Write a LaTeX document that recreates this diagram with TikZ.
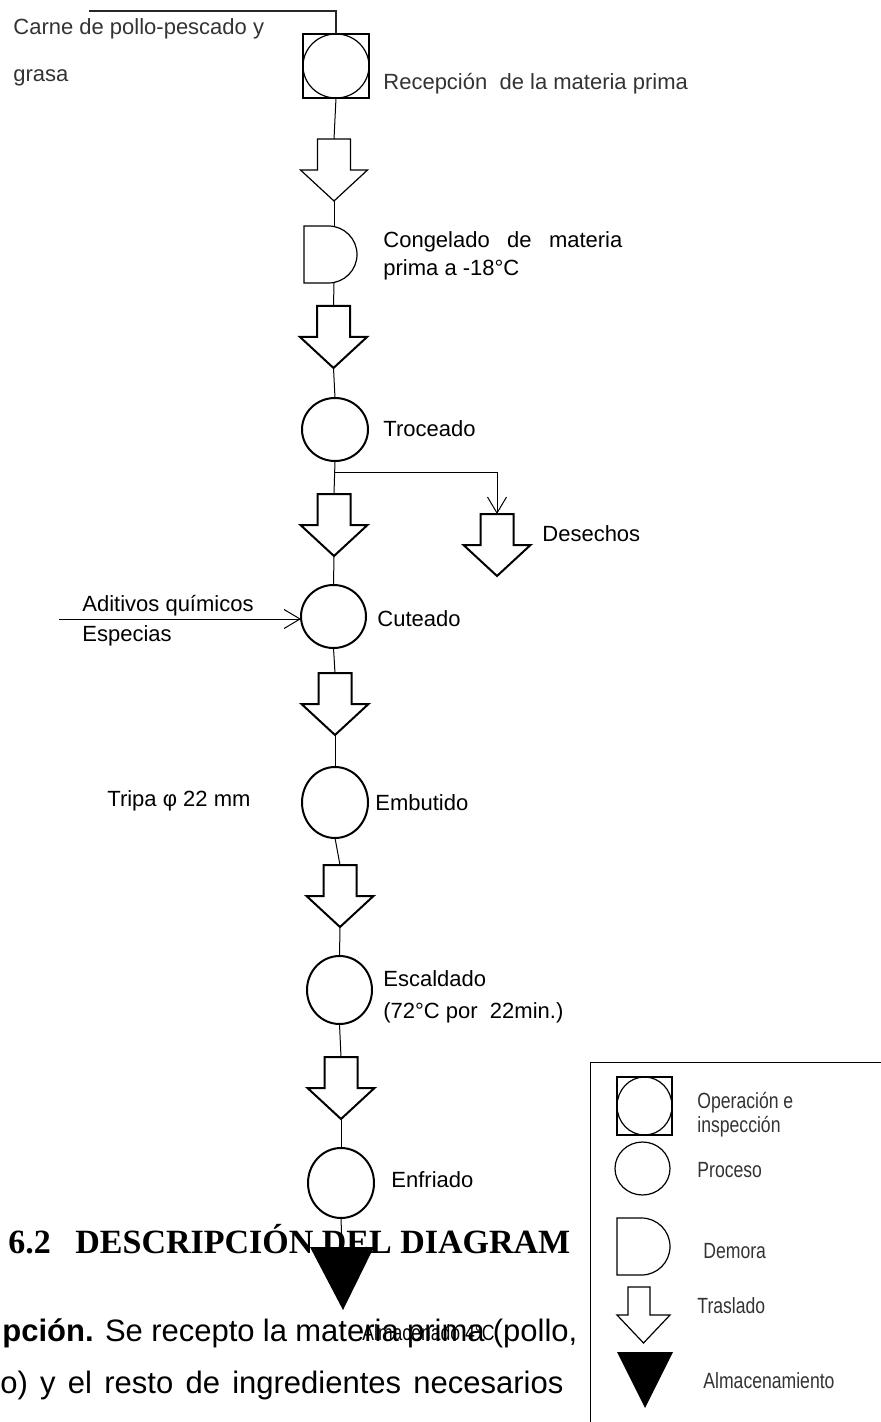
\documentclass[tikz,border=0pt]{standalone}
\usepackage{fontspec}
\setmainfont{Liberation Sans}
\newfontfamily\angosta[FakeStretch=0.8]{Liberation Sans}
\newfontfamily\titulo{Liberation Serif}
\usetikzlibrary{shapes.geometric,arrows.meta}
\tikzset{
  proceso/.style={ellipse, draw, line width=1pt, inner sep=0pt, outer sep=0pt},
  fino/.style={line width=0.6pt},
  linea/.style={line width=0.5pt},
  flecha/.style={linea, -{Straight Barb[length=8pt,width=9.5pt]}},
  etiq/.style={anchor=base west, inner sep=0pt, font=\fontsize{11}{13}\selectfont},
  etiqgris/.style={etiq, text=black!80},
  leyenda/.style={anchor=base west, inner sep=0pt, text=black!80, font=\angosta\fontsize{11}{13}\selectfont},
  cuerpo/.style={anchor=base west, inner sep=0pt, font=\fontsize{15.5}{18}\selectfont},
  cabeza/.style={anchor=base west, inner sep=0pt, font=\titulo\bfseries\fontsize{17}{20}\selectfont},
  traslado/.pic={
    \draw[line join=miter, pic actions] (-16.5,0) -- (16.5,0) -- (16.5,31) -- (33.5,31) -- (0,62) -- (-33.5,31) -- (-16.5,31) -- cycle;
    \coordinate (-top) at (0,0);
    \coordinate (-tip) at (0,62);
  },
  demora/.pic={
    \draw[pic actions] (-15pt,0pt) -- (-2.75pt,0pt) arc(90:-90:14.25pt) -- (-15pt,-28.5pt) -- cycle;
    \coordinate (-top) at (0,0);
    \coordinate (-bot) at (0pt,-28.5pt);
  }
}
\begin{document}
\begin{tikzpicture}[x=0.5pt,y=-0.5pt]
    \useasboundingbox (0,0) rectangle (881,1422);
    \clip (0,0) rectangle (881,1422);

    \node[cabeza] (num) at (8,1253) {6.2};
    \node[cabeza] (tit) at (75,1253) {DESCRIPCIÓN DEL DIAGRAM};
    \node[cuerpo] (par1) at (2,1341) {\makebox[287.5pt][s]{\textbf{pción.} Se recepto la materia prima (pollo,}};
    \node[cuerpo] (par2) at (0,1393) {\makebox[281.5pt][s]{o) y el resto de ingredientes necesarios}};

    \coordinate (entrada) at (89,11);
    \node[draw, fino, minimum width=33pt, minimum height=32pt, inner sep=0pt, outer sep=0pt] (recep) at (336,66) {};
    \node[proceso, fino, minimum width=33pt, minimum height=32pt] (recepc) at (recep) {};
    \draw[line width=0.8pt, black!85] (entrada) -| (recep.north);
    \node[etiqgris] (lcarne) at (13,35) {Carne de pollo-pescado y};
    \node[etiqgris] (lgrasa) at (13,82) {grasa};
    \node[etiqgris] (lrecep) at (383,90) {Recepción\ \ de la materia prima};

    \pic[fino] (t1) at (334,139) {traslado};
    \draw[linea] (recep.south) -- (t1-top);
    \pic[fino] (cong) at (334,226) {demora};
    \draw[linea] (t1-tip) -- (cong-top);
    \node[etiq] (lcong) at (383,248) {\makebox[119.5pt][s]{Congelado de materia}};
    \node[etiq] (lcong2) at (383,276) {prima a -18°C};

    \pic[line width=1pt] (t2) at (333.5,306) {traslado};
    \draw[linea] (cong-bot) -- (t2-top);
    \node[proceso, minimum width=33pt, minimum height=31.5pt] (troc) at (335,429.5) {};
    \draw[linea] (t2-tip) -- (troc.north);
    \node[etiq] (ltroc) at (383,437) {Troceado};

    \pic[line width=1pt] (t3) at (334,494) {traslado};
    \draw[linea] (troc.south) -- (t3-top);
    \coordinate (ramal) at (335,472);
    \pic[line width=1pt] (t7) at (497,514) {traslado};
    \draw[flecha] (ramal) -| (t7-top);
    \node[etiq] (ldes) at (542,541) {Desechos};

    \node[proceso, minimum width=32.5pt, minimum height=31.5pt] (cut) at (333.5,616.5) {};
    \draw[linea] (t3-tip) -- (cut.north);
    \coordinate (aditivo) at (59,619);
    \draw[flecha] (aditivo) -- (aditivo -| cut.west);
    \node[etiq] (ladit) at (82,611) {Aditivos químicos};
    \node[etiq] (lespe) at (82,641) {Especias};
    \node[etiq] (lcut) at (377,626) {Cuteado};

    \pic[line width=1pt] (t4) at (335,673) {traslado};
    \draw[linea] (cut.south) -- (t4-top);
    \node[proceso, minimum width=33pt, minimum height=35.5pt] (emb) at (335,802.5) {};
    \draw[linea] (t4-tip) -- (emb.north);
    \node[etiq] (ltripa) at (107,806) {Tripa φ 22 mm};
    \node[etiq] (lemb) at (375,810) {Embutido};

    \pic[line width=1pt] (t5) at (340,865) {traslado};
    \draw[linea] (emb.south) -- (t5-top);
    \node[proceso, minimum width=32.5pt, minimum height=34pt] (esc) at (339.5,990) {};
    \draw[linea] (t5-tip) -- (esc.north);
    \node[etiq] (lesc) at (383,986) {Escaldado};
    \node[etiq] (lesc2) at (383,1018) {(72°C por\ \ 22min.)};

    \pic[line width=1pt] (t6) at (341,1057) {traslado};
    \draw[linea] (esc.south) -- (t6-top);
    \node[proceso, minimum width=33pt, minimum height=35pt] (enf) at (341,1183) {};
    \draw[linea] (t6-tip) -- (enf.north);
    \node[etiq] (lenf) at (391,1187) {Enfriado};

    \coordinate (alm) at (342,1247);
    \fill (310,1247) -- (374,1247) -- (343,1310) -- cycle;
    \draw[linea] (enf.south) -- (alm);
    \node[leyenda, text=black] (lalm) at (362,1340) {Almacenado 4°C};

    \draw[linea, fill=white] (590,1062) rectangle (900,1440);
    \node[draw, fino, minimum width=27.5pt, minimum height=29pt, inner sep=0pt, outer sep=0pt] (lcaja) at (644.5,1106) {};
    \node[proceso, fino, minimum width=27.5pt, minimum height=29pt] (lcajac) at (lcaja) {};
    \node[leyenda] (lop) at (697,1108) {Operación e};
    \node[leyenda] (lins) at (697,1132) {inspección};
    \node[proceso, fino, minimum width=27.5pt, minimum height=26.5pt] (lproc) at (642.5,1168.5) {};
    \node[leyenda] (lpro) at (697,1177) {Proceso};
    \pic[fino] (ldem) at (647,1218) {demora};
    \node[leyenda] (ldemo) at (703,1258) {Demora};
    \draw[fino, line join=miter] (628,1287) -- (650,1287) -- (650,1315) -- (670,1315) -- (643.5,1343) -- (617,1315) -- (628,1315) -- cycle;
    \node[leyenda] (ltras) at (697,1313) {Traslado};
    \fill (617,1352) -- (673,1352) -- (645,1408) -- cycle;
    \node[leyenda] (lalmac) at (703,1388) {Almacenamiento};
\end{tikzpicture}
\end{document}
